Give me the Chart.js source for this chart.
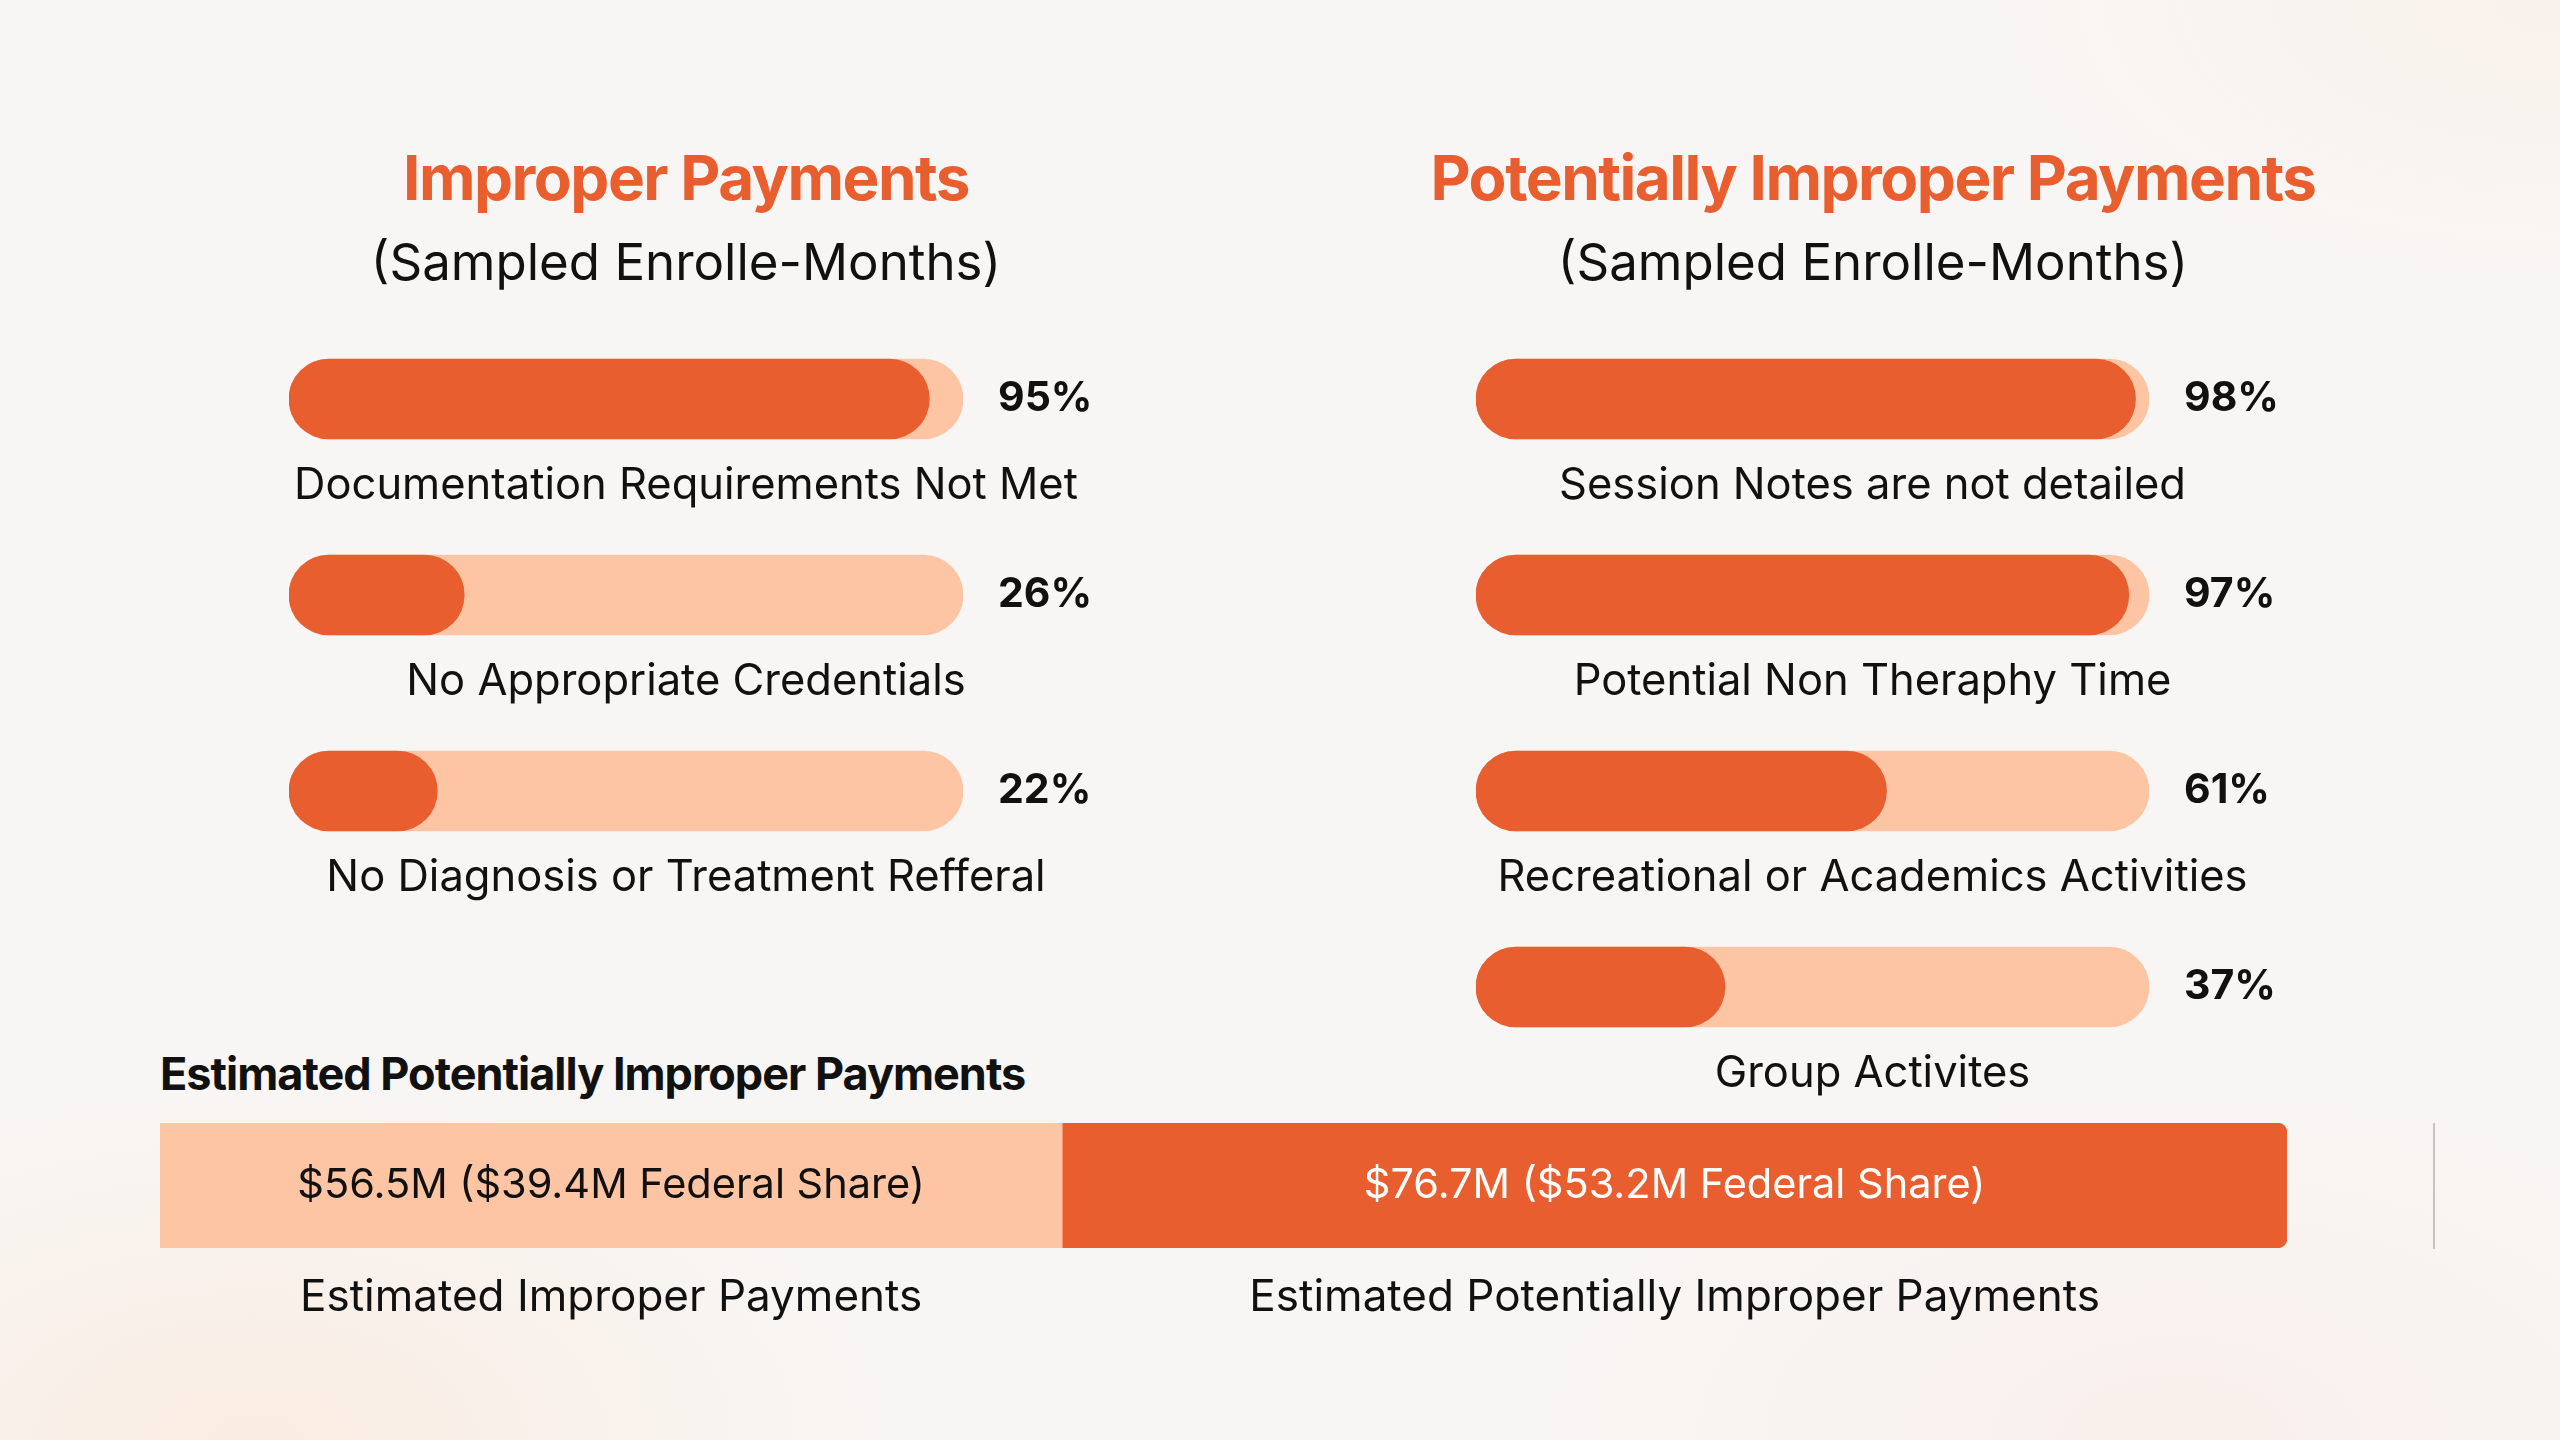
<!DOCTYPE html>
<html>
<head>
<meta charset="utf-8">
<script src="https://cdn.jsdelivr.net/npm/chart.js@4.4.1/dist/chart.umd.min.js"></script>
<style>
  body {
    margin: 0;
    width: 2560px;
    height: 1440px;
    overflow: hidden;
    position: relative;
    font-family: Inter, "Noto Sans", sans-serif;
    background:
      radial-gradient(ellipse 900px 500px at 10% 100%, rgba(251, 224, 204, 0.45), rgba(251, 224, 204, 0) 70%),
      radial-gradient(ellipse 900px 500px at 85% 100%, rgba(250, 226, 218, 0.35), rgba(250, 226, 218, 0) 70%),
      radial-gradient(ellipse 800px 400px at 100% 0%, rgba(250, 236, 226, 0.5), rgba(250, 236, 226, 0) 70%),
      #f8f6f4;
  }
  canvas { position: absolute; left: 0; top: 0; }
  .txt {
    position: absolute;
    transform: translate(-50%, -50%);
    white-space: nowrap;
  }
  .title { color: #e85e2f; font-weight: 700; font-size: 62px; letter-spacing: -1.5px; }
  .sub { color: #111; font-weight: 400; font-size: 51px; }
  .head { position: absolute; white-space: nowrap; color: #111; font-weight: 700;
          font-size: 45px; letter-spacing: -1px; left: 160px; top: 1073px; transform: translateY(-50%); }
  .sep { position: absolute; left: 2433px; top: 1123px; width: 2px; height: 126px; background: #c9c3bf; }
</style>
</head>
<body>

<div class="txt title" style="left:686px; top:177px;">Improper Payments</div>
<div class="txt sub" style="left:686px; top:261px;">(Sampled Enrolle-Months)</div>
<div class="txt title" style="left:1873px; top:177px;">Potentially Improper Payments</div>
<div class="txt sub" style="left:1873px; top:261px;">(Sampled Enrolle-Months)</div>
<div class="head">Estimated Potentially Improper Payments</div>
<div class="sep"></div>

<canvas id="leftChart" width="2560" height="1440"></canvas>
<canvas id="rightChart" width="2560" height="1440"></canvas>
<canvas id="totalChart" width="2560" height="1440"></canvas>

<script>
// ------------------------------------
// DATA
// ------------------------------------
const improperLabels = [
  "Documentation Requirements Not Met",
  "No Appropriate Credentials",
  "No Diagnosis or Treatment Refferal",
];
const improperValues = [95, 26, 22];

const potentialLabels = [
  "Session Notes are not detailed",
  "Potential Non Theraphy Time",
  "Recreational or Academics Activities",
  "Group Activites",
];
const potentialValues = [98, 97, 61, 37];

const totalLabels = ["Estimated Improper Payments", "Estimated Potentially Improper Payments"];
const totalValues = [56.5, 76.7];
const totalText = ["$56.5M ($39.4M Federal Share)", "$76.7M ($53.2M Federal Share)"];

const DARK = "#e85e2f";
const LIGHT = "#fec5a5";
const FONT = "Inter, 'Noto Sans', sans-serif";

// ------------------------------------
// LABEL PLUGIN for the progress bars
// ------------------------------------
const barLabels = {
  id: "barLabels",
  afterDatasetsDraw(chart) {
    const ctx = chart.ctx;
    const x = chart.scales.x;
    const y = chart.scales.y;
    const vals = chart.data.datasets[0].data;
    ctx.save();
    ctx.fillStyle = "#111";
    ctx.textBaseline = "middle";
    chart.data.labels.forEach((lab, i) => {
      const cy = y.getPixelForValue(i);
      ctx.font = "700 41px " + FONT;
      ctx.textAlign = "left";
      ctx.fillText(vals[i] + "%", x.getPixelForValue(100) + 35, cy);
      ctx.font = "400 43.5px " + FONT;
      ctx.textAlign = "center";
      ctx.fillText(lab, x.getPixelForValue(50) + 60, cy + 87);
    });
    ctx.restore();
  },
};

function progressChart(id, labels, values, pad) {
  return new Chart(document.getElementById(id), {
    type: "bar",
    data: {
      labels: labels,
      datasets: [
        {
          data: values,
          backgroundColor: DARK,
          grouped: false,
          barThickness: 80,
          borderRadius: 40,
          borderSkipped: false,
        },
        {
          data: labels.map(() => 100),
          backgroundColor: LIGHT,
          grouped: false,
          barThickness: 80,
          borderRadius: 40,
          borderSkipped: false,
        },
      ],
    },
    options: {
      indexAxis: "y",
      responsive: false,
      animation: false,
      layout: { padding: pad },
      plugins: { legend: { display: false }, tooltip: { enabled: false } },
      scales: {
        x: { display: false, min: 0, max: 100 },
        y: { display: false },
      },
    },
    plugins: [barLabels],
  });
}

// ------------------------------------
// LEFT + RIGHT PROGRESS BARS
// ------------------------------------
progressChart("leftChart", improperLabels, improperValues,
  { left: 289, right: 2560 - 963, top: 301, bottom: 1440 - 889 });
progressChart("rightChart", potentialLabels, potentialValues,
  { left: 1476, right: 2560 - 2149, top: 301, bottom: 1440 - 1085 });

// ------------------------------------
// BOTTOM STACKED BAR
// ------------------------------------
const totalPlugin = {
  id: "totalPlugin",
  afterDatasetsDraw(chart) {
    const ctx = chart.ctx;
    ctx.save();
    ctx.textAlign = "center";
    ctx.textBaseline = "middle";
    chart.data.datasets.forEach((ds, i) => {
      const el = chart.getDatasetMeta(i).data[0];
      const cx = (el.x + el.base) / 2;
      ctx.font = "400 41.5px " + FONT;
      ctx.fillStyle = i === 1 ? "#ffffff" : "#111";
      ctx.fillText(totalText[i], cx, el.y);
      ctx.font = "400 44px " + FONT;
      ctx.fillStyle = "#111";
      ctx.fillText(totalLabels[i], cx, el.y + 112);
    });
    ctx.restore();
  },
};

new Chart(document.getElementById("totalChart"), {
  type: "bar",
  data: {
    labels: ["Total"],
    datasets: [
      {
        label: totalLabels[0],
        data: [totalValues[0]],
        backgroundColor: LIGHT,
        barPercentage: 1,
        categoryPercentage: 1,
        borderRadius: 0,
      },
      {
        label: totalLabels[1],
        data: [totalValues[1]],
        backgroundColor: DARK,
        barPercentage: 1,
        categoryPercentage: 1,
        borderRadius: { topRight: 10, bottomRight: 10 },
      },
    ],
  },
  options: {
    indexAxis: "y",
    responsive: false,
    animation: false,
    layout: { padding: { left: 160, right: 2560 - 2287, top: 1123, bottom: 1440 - 1248 } },
    plugins: { legend: { display: false }, tooltip: { enabled: false } },
    scales: {
      x: { display: false, stacked: true, min: 0, max: totalValues[0] + totalValues[1] },
      y: { display: false, stacked: true },
    },
  },
  plugins: [totalPlugin],
});
</script>
</body>
</html>
